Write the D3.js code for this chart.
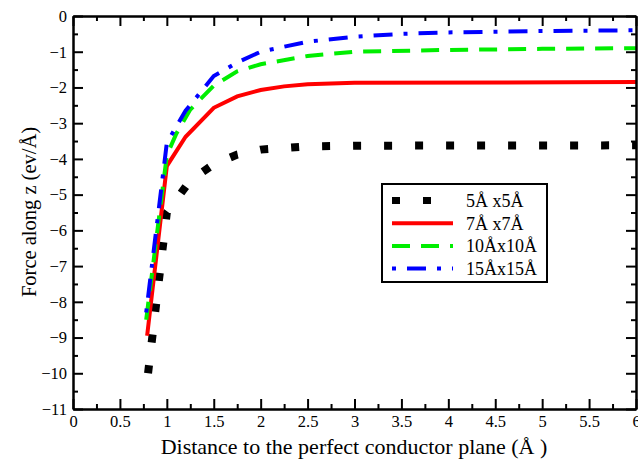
<!DOCTYPE html>
<html>
<head>
<meta charset="utf-8">
<script src="https://cdn.jsdelivr.net/npm/d3@7.9.0/dist/d3.min.js"></script>
<style>
  body { margin: 0; background: #fff; }
  svg { display: block; font-family: "Liberation Serif", "Times New Roman", serif; }
</style>
</head>
<body>
<svg id="chart" width="638" height="461"></svg>
<script>
// data
const seriesNames = ['5Å x5Å', '7Å x7Å', '10Åx10Å', '15Åx15Å'];

const x5 = [0.8, 1.0, 1.25, 1.5, 1.75, 2.0, 2.5, 3.0, 6.0];
const y5 = [-10.0, -5.5, -4.6, -4.15, -3.88, -3.74, -3.65, -3.63, -3.62];

const x7 = [0.79, 1.0, 1.2, 1.5, 1.75, 2.0, 2.25, 2.5, 3.0, 6.0];
const y7 = [-8.95, -4.2, -3.38, -2.57, -2.25, -2.07, -1.97, -1.91, -1.87, -1.85];

const x10 = [0.78, 1.0, 1.1, 1.25, 1.5, 1.75, 2.0, 2.5, 3.0, 4.0, 5.0, 6.0];
const y10 = [-8.5, -3.9, -3.3, -2.62, -1.95, -1.55, -1.35, -1.12, -1.0, -0.95, -0.92, -0.9];

const x15 = [0.78, 1.0, 1.2, 1.5, 1.75, 2.0, 2.5, 3.0, 3.5, 4.0, 5.0, 6.0];
const y15 = [-8.3, -3.55, -2.65, -1.68, -1.3, -1.0, -0.72, -0.58, -0.5, -0.46, -0.42, -0.4];

const xTicks = [0, 0.5, 1, 1.5, 2, 2.5, 3, 3.5, 4, 4.5, 5, 5.5, 6];
const yTicks = [0, -1, -2, -3, -4, -5, -6, -7, -8, -9, -10, -11];

const svg = d3.select('#chart');
const mLeft = 73, mRight = 636, mTop = 16, mBottom = 409;

const x = d3.scaleLinear().domain([0, 6]).range([mLeft, mRight]);
const y = d3.scaleLinear().domain([-11, 0]).range([mBottom, mTop]);

const xMinor = d3.range(0, 6.001, 0.25).filter(v => Math.abs(v * 2 - Math.round(v * 2)) > 1e-6);
const yMinor = d3.range(-11, 0.001, 0.5).filter(v => Math.abs(v - Math.round(v)) > 1e-6);

// curves
const styles = [
  { color: '#000', width: 8, dash: '8,23' },
  { color: '#ff0000', width: 4, dash: null },
  { color: '#00ee00', width: 4, dash: '18,11' },
  { color: '#0000ff', width: 4, dash: '4,11,19,11' }
];
const series = [[x5, y5], [x7, y7], [x10, y10], [x15, y15]];

const line = d3.line().x(d => x(d[0])).y(d => y(d[1]));

const plot = svg.append('g');
series.forEach(([xs, ys], i) => {
  const pts = xs.map((v, j) => [v, ys[j]]);
  plot.append('path')
    .attr('d', line(pts))
    .attr('fill', 'none')
    .attr('stroke', styles[i].color)
    .attr('stroke-width', styles[i].width)
    .attr('stroke-dasharray', styles[i].dash);
});

// axes, ticks pointing inward
function styleAxis(g) {
  g.selectAll('path, line').attr('stroke', '#000').attr('stroke-width', 2);
  g.selectAll('text').attr('font-family', '"Liberation Serif", serif').attr('font-size', 16.5).attr('fill', '#000');
}

svg.append('g').attr('transform', `translate(0,${mBottom})`)
  .call(d3.axisBottom(x).tickValues(xTicks).tickFormat(d3.format('')).tickSize(-10).tickSizeOuter(0).tickPadding(6))
  .call(styleAxis);
svg.append('g').attr('transform', `translate(0,${mBottom})`)
  .call(d3.axisBottom(x).tickValues(xMinor).tickFormat('').tickSize(-5).tickSizeOuter(0))
  .call(styleAxis);
svg.append('g').attr('transform', `translate(0,${mTop})`)
  .call(d3.axisTop(x).tickValues(xTicks).tickFormat('').tickSize(-10).tickSizeOuter(0))
  .call(styleAxis);
svg.append('g').attr('transform', `translate(0,${mTop})`)
  .call(d3.axisTop(x).tickValues(xMinor).tickFormat('').tickSize(-5).tickSizeOuter(0))
  .call(styleAxis);

svg.append('g').attr('transform', `translate(${mLeft},0)`)
  .call(d3.axisLeft(y).tickValues(yTicks).tickFormat(d3.format('')).tickSize(-10).tickSizeOuter(0).tickPadding(6))
  .call(styleAxis);
svg.append('g').attr('transform', `translate(${mLeft},0)`)
  .call(d3.axisLeft(y).tickValues(yMinor).tickFormat('').tickSize(-5).tickSizeOuter(0))
  .call(styleAxis);
svg.append('g').attr('transform', `translate(${mRight},0)`)
  .call(d3.axisRight(y).tickValues(yTicks).tickFormat('').tickSize(-10).tickSizeOuter(0))
  .call(styleAxis);
svg.append('g').attr('transform', `translate(${mRight},0)`)
  .call(d3.axisRight(y).tickValues(yMinor).tickFormat('').tickSize(-5).tickSizeOuter(0))
  .call(styleAxis);

// axis titles
svg.append('text')
  .attr('x', 354).attr('y', 454)
  .attr('text-anchor', 'middle').attr('font-size', 22)
  .text('Distance to the perfect conductor plane (Å )');

svg.append('text')
  .attr('transform', `translate(36,212) rotate(-90)`)
  .attr('text-anchor', 'middle').attr('font-size', 20.5)
  .text('Force along z (ev/Å)');

// legend
const legend = svg.append('g').attr('transform', 'translate(382,184)');
legend.append('rect')
  .attr('x', 0).attr('y', 0).attr('width', 165).attr('height', 98)
  .attr('fill', '#fff').attr('stroke', '#000').attr('stroke-width', 2);

seriesNames.forEach((name, i) => {
  const ly = 16.5 + i * 22.7;
  legend.append('line')
    .attr('x1', 10).attr('x2', 71).attr('y1', ly).attr('y2', ly)
    .attr('stroke', styles[i].color)
    .attr('stroke-width', i === 0 ? 7 : 4)
    .attr('stroke-dasharray', styles[i].dash);
  legend.append('text')
    .attr('x', 84).attr('y', ly + 6.5)
    .attr('font-size', 18)
    .text(name);
});
</script>
</body>
</html>
